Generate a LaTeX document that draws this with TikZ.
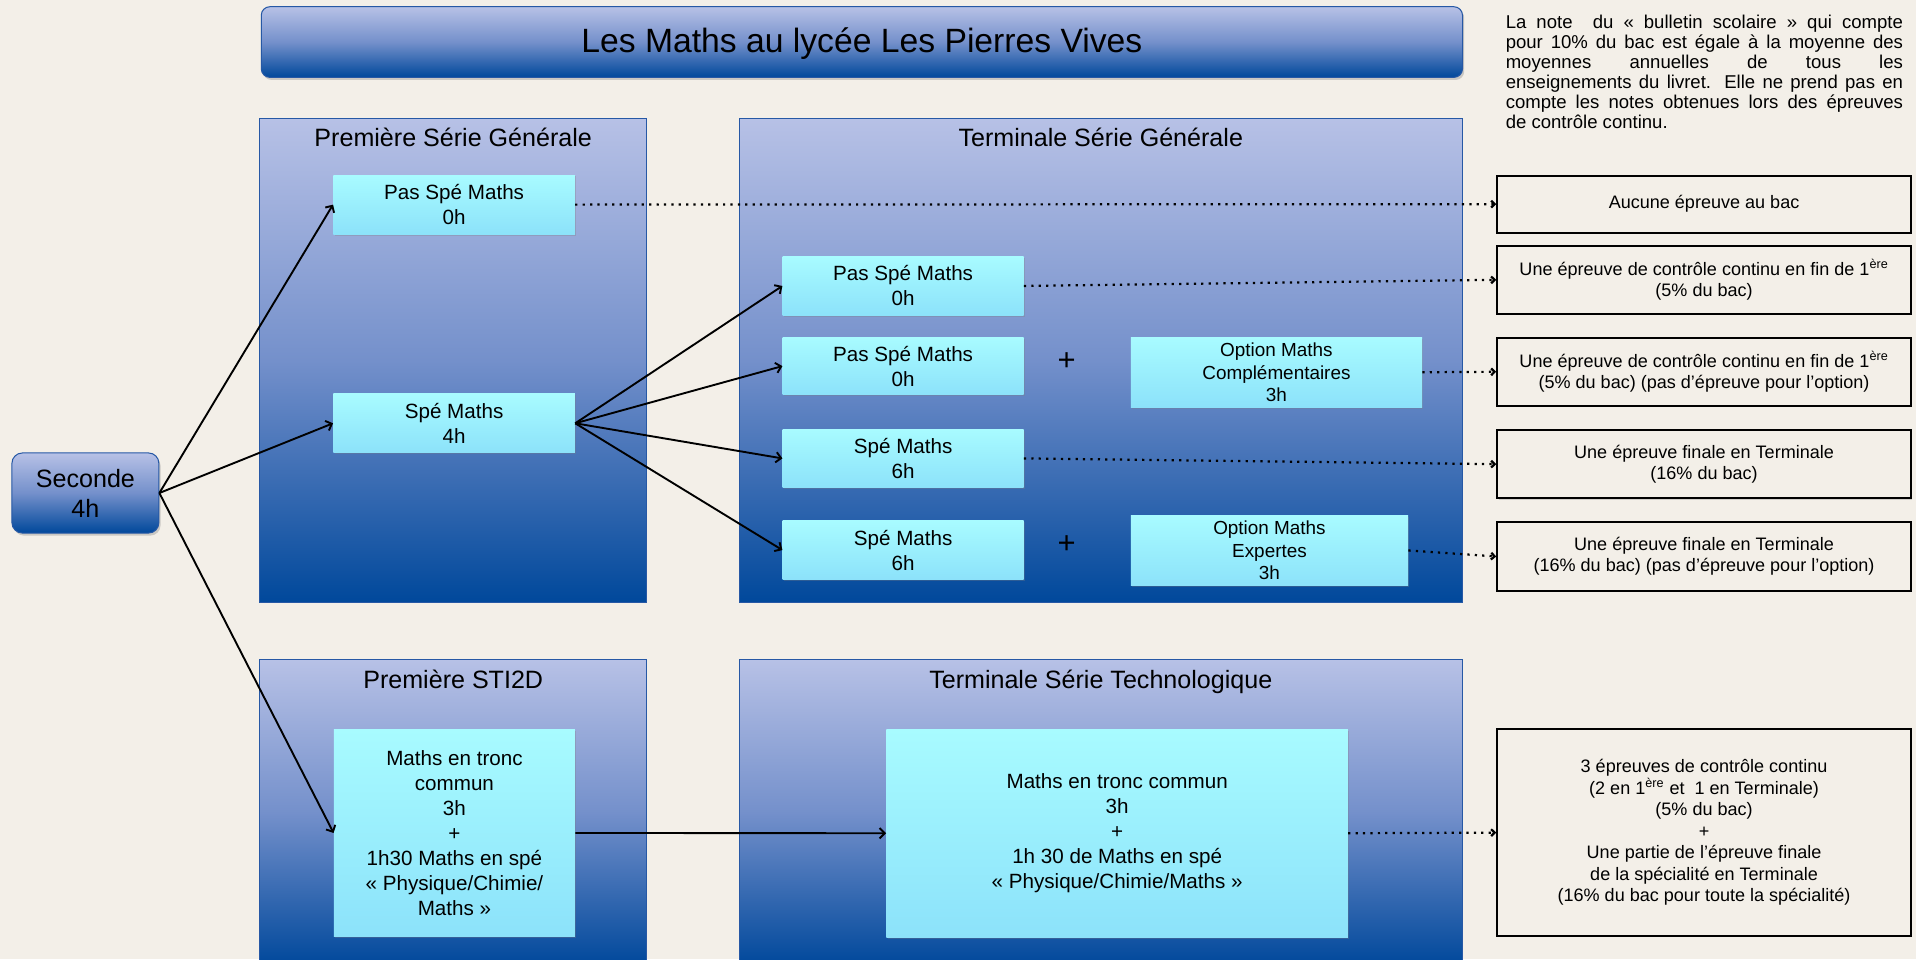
\documentclass[tikz,border=0pt]{standalone}
\usepackage{fontspec}
\setmainfont{Liberation Sans}
\usetikzlibrary{arrows.meta,shadows}

\definecolor{bgcream}{RGB}{243,239,232}
\definecolor{navytop}{RGB}{183,193,230}
\definecolor{navymid}{RGB}{116,144,203}
\definecolor{navybot}{RGB}{0,72,155}
\definecolor{navyline}{RGB}{38,88,165}
\definecolor{cyantop}{RGB}{168,251,255}
\definecolor{cyanbot}{RGB}{140,226,250}

\tikzset{
  panel/.style={draw=navyline, line width=0.6pt, top color=navytop, bottom color=navybot, middle color=navymid, inner sep=0pt},
  paneltitle/.style={anchor=base, inner sep=0pt, font=\fontsize{14.6}{17.5}\selectfont},
  titlebar/.style={panel, rounded corners=5pt, drop shadow={shadow xshift=1pt, shadow yshift=-1.5pt, opacity=0.35}, font=\fontsize{19.6}{23}\selectfont},
  seconde/.style={panel, rounded corners=6pt, drop shadow={shadow xshift=1pt, shadow yshift=-1.5pt, opacity=0.35}, align=center, font=\fontsize{14.6}{17.4}\selectfont},
  cyanbox/.style={top color=cyantop, bottom color=cyanbot, inner sep=0pt, align=center, drop shadow={shadow xshift=0.8pt, shadow yshift=-0.8pt, opacity=0.3}, font=\fontsize{12}{14.6}\selectfont},
  optbox/.style={cyanbox, font=\fontsize{11}{13.2}\selectfont},
  resbox/.style={draw=black, line width=1.2pt, fill=bgcream, inner sep=0pt, align=center, minimum width=8.4625cm, drop shadow={shadow xshift=0.8pt, shadow yshift=-0.8pt, opacity=0.3}, font=\fontsize{10.5}{12.5}\selectfont},
  plus/.style={inner sep=0pt, font=\fontsize{18}{20}\selectfont},
  link/.style={-{Straight Barb[length=3pt,width=6pt]}, line width=1.1pt},
  dotlink/.style={-{Straight Barb[length=2pt,width=4pt]}, line width=1.3pt, dash pattern=on 1.3pt off 3pt}
}

\begin{document}
\begin{tikzpicture}[x=0.025cm, y=-0.025cm]

    \useasboundingbox (0,0) rectangle (1568,785);
    \fill[bgcream] (0,0) rectangle (1568,785);

    \node[titlebar, minimum width=24.57cm, minimum height=1.445cm, text depth=0.25em] (titre) at (705.35,34.4) {Les Maths au lycée Les Pierres Vives};

    \node[panel, minimum width=7.905cm, minimum height=9.905cm] (pgen) at (370.9,294.9) {};
      \node[paneltitle] (pgen-t) at (370.9,120) {Première Série Générale};
    \node[panel, minimum width=14.7775cm, minimum height=9.905cm] (tgen) at (900.85,294.9) {};
      \node[paneltitle] (tgen-t) at (900.85,120) {Terminale Série Générale};
    \node[panel, minimum width=7.905cm, minimum height=6.25cm] (psti) at (370.9,665) {};
      \node[paneltitle] (psti-t) at (370.9,563.3) {Première STI2D};
    \node[panel, minimum width=14.7775cm, minimum height=6.25cm] (ttec) at (900.85,665) {};
      \node[paneltitle] (ttec-t) at (900.85,563.3) {Terminale Série Technologique};

    \node[seconde, minimum width=3.005cm, minimum height=1.6375cm] (sec) at (69.9,403.45) {Seconde\\4h};

    \node[cyanbox, minimum width=4.94cm, minimum height=1.21cm] (ps1) at (371.65,167.45) {Pas Spé Maths\\0h};
    \node[cyanbox, minimum width=4.94cm, minimum height=1.2cm] (sm1) at (371.65,346.4) {Spé Maths\\4h};
    \node[cyanbox, minimum width=4.93cm, minimum height=4.2425cm] (st) at (371.9,681.65) {Maths en tronc\\commun\\3h\\+\\1h30 Maths en spé\\« Physique/Chimie/\\Maths »};

    \node[cyanbox, minimum width=4.925cm, minimum height=1.2cm] (ps2) at (739.1,234) {Pas Spé Maths\\0h};
    \node[cyanbox, minimum width=4.925cm, minimum height=1.18cm] (ps3) at (739.1,299.6) {Pas Spé Maths\\0h};
    \node[cyanbox, minimum width=4.925cm, minimum height=1.19cm] (sm2) at (739.1,375.15) {Spé Maths\\6h};
    \node[cyanbox, minimum width=4.925cm, minimum height=1.19cm] (sm3) at (739.1,450.15) {Spé Maths\\6h};
    \node[plus] (plus1) at (873,296) {+};
    \node[plus] (plus2) at (873,446) {+};
    \node[optbox, minimum width=5.955cm, minimum height=1.43cm] (oc) at (1044.6,304.65) {Option Maths\\Complémentaires\\3h};
    \node[optbox, minimum width=5.67cm, minimum height=1.44cm] (oe) at (1038.9,450.5) {Option Maths\\Expertes\\3h};
    \node[cyanbox, minimum width=9.4375cm, minimum height=4.255cm] (tt) at (914.25,681.9) {Maths en tronc commun\\3h\\+\\1h 30 de Maths en spé\\« Physique/Chimie/Maths »};

    \node[anchor=north west, inner sep=0pt, text width=8.125cm, align=justify, font=\fontsize{10.8}{11.7}\selectfont] (note) at (1232,12) {La note\ \ du « bulletin scolaire » qui compte\linebreak pour 10\% du bac est égale à la moyenne des\linebreak moyennes annuelles de tous les\linebreak enseignements du livret. Elle ne prend pas en\linebreak compte les notes obtenues lors des épreuves\linebreak de contrôle continu.};

    \node[resbox, minimum height=1.1675cm] (r1) at (1394.55,167.05) {Aucune épreuve au bac};
    \node[resbox, minimum height=1.4cm] (r2) at (1394.55,229) {Une épreuve de contrôle continu en fin de 1\textsuperscript{ère}\\(5\% du bac)};
    \node[resbox, minimum height=1.3975cm] (r3) at (1394.55,304.25) {Une épreuve de contrôle continu en fin de 1\textsuperscript{ère}\\(5\% du bac) (pas d’épreuve pour l’option)};
    \node[resbox, minimum height=1.3975cm] (r4) at (1394.55,379.85) {Une épreuve finale en Terminale\\(16\% du bac)};
    \node[resbox, minimum height=1.4cm] (r5) at (1394.55,455.4) {Une épreuve finale en Terminale\\(16\% du bac) (pas d’épreuve pour l’option)};
    \node[resbox, minimum height=4.23cm] (r6) at (1394.55,681.4) {3 épreuves de contrôle continu\\(2 en 1\textsuperscript{ère} et\ \ 1 en Terminale)\\(5\% du bac)\\+\\Une partie de l’épreuve finale\\de la spécialité en Terminale\\(16\% du bac pour toute la spécialité)};

    \draw[link] (sec.east) to (ps1.west);
    \draw[link] (sec.east) to (sm1.west);
    \draw[link] (sec.east) to (st.west);
    \draw[link] (sm1.east) to (ps2.west);
    \draw[link] (sm1.east) to (ps3.west);
    \draw[link] (sm1.east) to (sm2.west);
    \draw[link] (sm1.east) to (sm3.west);
    \draw[link] (st.east) to (tt.west);

    \draw[dotlink] (ps1.east) to (r1.west);
    \draw[dotlink] (ps2.east) to (r2.west);
    \draw[dotlink] (oc.east) to (r3.west);
    \draw[dotlink] (sm2.east) to (r4.west);
    \draw[dotlink] (oe.east) to (r5.west);
    \draw[dotlink] (tt.east) to (r6.west);

  \end{tikzpicture}
\end{document}
